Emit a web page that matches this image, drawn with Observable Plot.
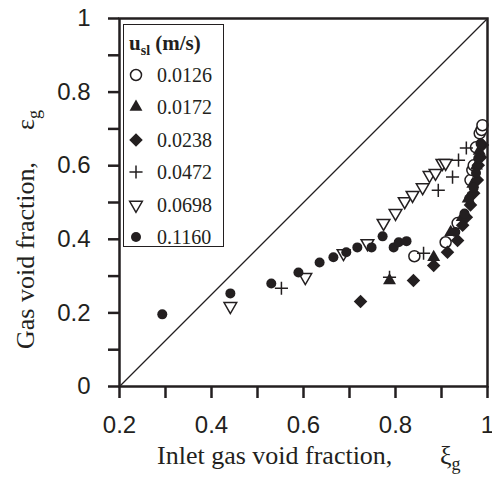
<!DOCTYPE html>
<html><head><meta charset="utf-8">
<script src="https://cdn.jsdelivr.net/npm/d3@7"></script>
<script src="https://cdn.jsdelivr.net/npm/@observablehq/plot@0.6"></script>
<style>
body{margin:0;background:#fff;}
#wrap{position:relative;width:492px;height:480px;}
</style></head><body><div id="wrap"></div>
<script>
// ---- data ----
const seriesNames = ["0.0126","0.0172","0.0238","0.0472","0.0698","0.1160"];
const x0126 = [0.841,0.909,0.935,0.963,0.967,0.970,0.975,0.983,0.987,0.989];
const y0126 = [0.354,0.392,0.444,0.561,0.588,0.601,0.650,0.688,0.697,0.710];
const x0172 = [0.787,0.883,0.920,0.945,0.958,0.968,0.976,0.982];
const y0172 = [0.288,0.351,0.419,0.460,0.510,0.550,0.600,0.640];
const x0238 = [0.724,0.839,0.883,0.913,0.935,0.946,0.954,0.963,0.970,0.978,0.980,0.985,0.989];
const y0238 = [0.231,0.288,0.329,0.365,0.397,0.438,0.460,0.493,0.525,0.561,0.601,0.623,0.656];
const x0472 = [0.552,0.787,0.861,0.893,0.924,0.937,0.954];
const y0472 = [0.267,0.297,0.362,0.533,0.569,0.615,0.648];
const x0698 = [0.441,0.604,0.687,0.739,0.774,0.800,0.820,0.837,0.859,0.874,0.887,0.902,0.909];
const y0698 = [0.218,0.297,0.362,0.389,0.444,0.471,0.503,0.520,0.541,0.574,0.580,0.607,0.607];
const x1160 = [0.293,0.441,0.530,0.589,0.635,0.665,0.693,0.717,0.748,0.772,0.796,0.807,0.824,0.930,0.950,0.960,0.970,0.975,0.980,0.985];
const y1160 = [0.196,0.253,0.280,0.310,0.337,0.351,0.365,0.378,0.378,0.408,0.378,0.392,0.395,0.420,0.470,0.510,0.540,0.580,0.620,0.660];
const xMajorTicks = [0.2,0.4,0.6,0.8,1];
const xMinorTicks = [0.3,0.5,0.7,0.9];
const yMajorTicks = [0,0.2,0.4,0.6,0.8,1];
const yMinorTicks = [0.1,0.3,0.5,0.7,0.9];
const diagX = [0.2,1];
const diagY = [0,1];

const xs = [x0126,x0172,x0238,x0472,x0698,x1160];
const ys = [y0126,y0172,y0238,y0472,y0698,y1160];
const INK = "#231f20";
const styles = [
  {symbol:"circle",   fill:"white", stroke:INK, r:5.5, rotate:0},
  {symbol:"triangle", fill:INK,     stroke:"none", r:4.8, rotate:0},
  {symbol:"diamond2", fill:INK,     stroke:"none", r:6.1, rotate:0},
  {symbol:"plus",     fill:"none",  stroke:INK, r:4.3, rotate:0},
  {symbol:"triangle", fill:"white", stroke:INK, r:4.7, rotate:180},
  {symbol:"circle",   fill:INK,     stroke:"none", r:5, rotate:0}
];
const tables = seriesNames.map((s,i)=> xs[i].map((x,j)=>({series:s, x, y: ys[i][j]})));
const diag = diagX.map((x,i)=>({x, y: diagY[i]}));
const sans = "Liberation Sans, Arial, sans-serif";

const marks = [
  Plot.line(diag, {x:"x", y:"y", stroke:INK, strokeWidth:1.3}),
  ...tables.map((t,i)=>Plot.dot(t, {x:"x", y:"y", symbol:()=>styles[i].symbol, r:styles[i].r,
      fill:styles[i].fill, stroke:styles[i].stroke, strokeWidth:1.5, rotate:styles[i].rotate})),
  Plot.axisX(xMajorTicks, {tickSize:12, tickPadding:17, strokeWidth:2.5, stroke:INK, fill:INK,
      tickFormat:d=>String(d), fontSize:24, fontFamily:sans, label:null}),
  Plot.axisX(xMinorTicks, {tickSize:12, strokeWidth:2.5, stroke:INK, tickFormat:()=>"", label:null}),
  Plot.axisY(yMajorTicks, {tickSize:11, tickPadding:18, strokeWidth:2.5, stroke:INK, fill:INK,
      tickFormat:d=>String(d), fontSize:24, fontFamily:sans, label:null}),
  Plot.axisY(yMinorTicks, {tickSize:11, strokeWidth:2.5, stroke:INK, tickFormat:()=>"", label:null}),
  Plot.frame({stroke:INK, strokeWidth:2.5})
];

const chart = Plot.plot({
  width:492, height:480,
  marginLeft:119, marginRight:5, marginTop:18, marginBottom:94,
  x:{domain:[0.2,1], label:null},
  y:{domain:[0,1], label:null},
  style:{background:"white", overflow:"visible"},
  marks
});
document.getElementById("wrap").appendChild(chart);

// axis titles and legend
const svg = d3.select(chart);
const serif = "Liberation Serif, Times New Roman, serif";
const xt = svg.append("text").attr("x",157).attr("y",464).attr("text-anchor","start")
  .attr("font-family",serif).attr("font-size",26).attr("fill",INK);
xt.append("tspan").text("Inlet gas void fraction,");
xt.append("tspan").attr("x",440).text("ξ");
xt.append("tspan").attr("font-size",18).attr("dy",6).text("g");

const yt = svg.append("text").attr("transform","translate(34,349) rotate(-90)").attr("text-anchor","start")
  .attr("font-family",serif).attr("font-size",26).attr("fill",INK);
yt.append("tspan").text("Gas void fraction,");
yt.append("tspan").attr("dx",32).text("ε");
yt.append("tspan").attr("font-size",18).attr("dy",6).text("g");

const lg = svg.append("g");
lg.append("rect").attr("x",123.5).attr("y",24.5).attr("width",100).attr("height",222)
  .attr("fill","white").attr("stroke",INK).attr("stroke-width",1);
const hd = lg.append("text").attr("x",129).attr("y",50).attr("text-anchor","start").attr("font-family",serif).attr("font-weight","bold")
  .attr("font-size",21).attr("fill",INK);
hd.append("tspan").text("u");
hd.append("tspan").attr("font-size",14).attr("dy",5).text("sl");
hd.append("tspan").attr("dy",-5).text(" (m/s)");
const symMap = {circle:d3.symbolCircle, triangle:d3.symbolTriangle, diamond2:d3.symbolDiamond2, plus:d3.symbolPlus};
const rowY = [75,107,140,172,205,237];
seriesNames.forEach((s,i)=>{
  const st = styles[i];
  lg.append("path").attr("d", d3.symbol(symMap[st.symbol], Math.PI*st.r*st.r)())
    .attr("transform",`translate(136,${rowY[i]}) rotate(${st.rotate})`)
    .attr("fill",st.fill).attr("stroke",st.stroke).attr("stroke-width",1.5);
  lg.append("text").attr("x",157).attr("y",rowY[i]+7).attr("text-anchor","start").attr("font-family",serif).attr("font-size",20)
    .attr("fill",INK).text(s);
});
</script></body></html>
